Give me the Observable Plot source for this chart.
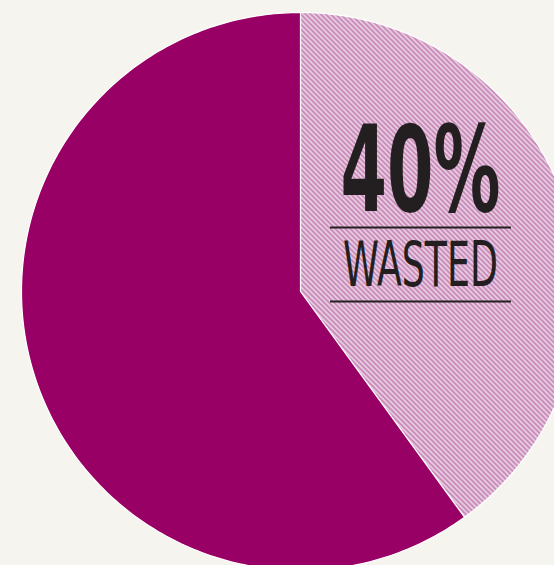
<!DOCTYPE html>
<html>
<head>
<meta charset="utf-8">
<script src="https://cdn.jsdelivr.net/npm/d3@7"></script>
<script src="https://cdn.jsdelivr.net/npm/@observablehq/plot@0.6"></script>
<style>
  html, body { margin: 0; padding: 0; background: #f5f4ee; overflow: hidden; }
  #chart svg { display: block; }
</style>
</head>
<body>
<div id="chart"></div>
<script>
// Data
const categories = ["Wasted", "Eaten"];
const shares = [40, 60];
const labelValue = "40%";
const labelText = "WASTED";

// Layout
const W = 554, H = 565;
const cx = 300, cy = 291, R = 279;

// Pie geometry (clockwise from 12 o'clock), via d3.pie
const pie = d3.pie().sort(null).value(d => d.share).startAngle(0).endAngle(2 * Math.PI);
const arcs = pie(categories.map((c, i) => ({category: c, share: shares[i]})));
const polys = [];
arcs.forEach(a => {
  const n = 240;
  polys.push({category: a.data.category, x: 0, y: 0});
  for (let k = 0; k <= n; k++) {
    const t = a.startAngle + (a.endAngle - a.startAngle) * k / n;
    polys.push({category: a.data.category, x: Math.sin(t), y: Math.cos(t)});
  }
  polys.push({category: a.data.category, x: 0, y: 0});
});

const px = v => (v - cx) / R;
const py = v => (cy - v) / R;

const plot = Plot.plot({
  width: W,
  height: H,
  margin: 0,
  style: {background: "#f5f4ee", overflow: "hidden"},
  x: {domain: [-1, 1], range: [cx - R, cx + R], axis: null},
  y: {domain: [-1, 1], range: [cy + R, cy - R], axis: null},
  marks: [
    Plot.line(polys, {x: "x", y: "y", z: "category", fill: d => d.category === "Wasted" ? "url(#hatch)" : "#990066", stroke: "#ffffff", strokeWidth: 1.2, strokeLinejoin: "round", curve: "linear"}),
    Plot.ruleY([py(227), py(301)], {x1: px(330), x2: px(511), stroke: "#231f20", strokeWidth: 2}),
    Plot.text([labelValue], {x: px(420), y: py(210), text: d => d, fontSize: 120, fontWeight: "bold", fill: "#231f20", textAnchor: "middle", lineAnchor: "bottom", fontFamily: "DejaVu Sans", className: "big"}),
    Plot.text([labelText], {x: px(420), y: py(285), text: d => d, fontSize: 62, fill: "#231f20", textAnchor: "middle", lineAnchor: "bottom", fontFamily: "DejaVu Sans", className: "small"})
  ]
});

const s = 5, p = 3.1;
const defs = `<defs><pattern id="hatch" patternUnits="userSpaceOnUse" x="0" y="0" width="${s}" height="${s}">
<rect width="${s}" height="${s}" fill="#f5edf2"></rect>
<path d="M0,0L${p},0L${s},${s - p}L${s},${s}Z M0,${s - p}L0,${s}L${p},${s}Z" fill="#c682b6"></path></pattern></defs>`;
plot.insertAdjacentHTML("afterbegin", defs);

d3.select(plot).selectAll("g.big text").attr("textLength", 160).attr("lengthAdjust", "spacingAndGlyphs");
d3.select(plot).selectAll("g.small text").attr("textLength", 155).attr("lengthAdjust", "spacingAndGlyphs");

document.getElementById("chart").appendChild(plot);
</script>
</body>
</html>
